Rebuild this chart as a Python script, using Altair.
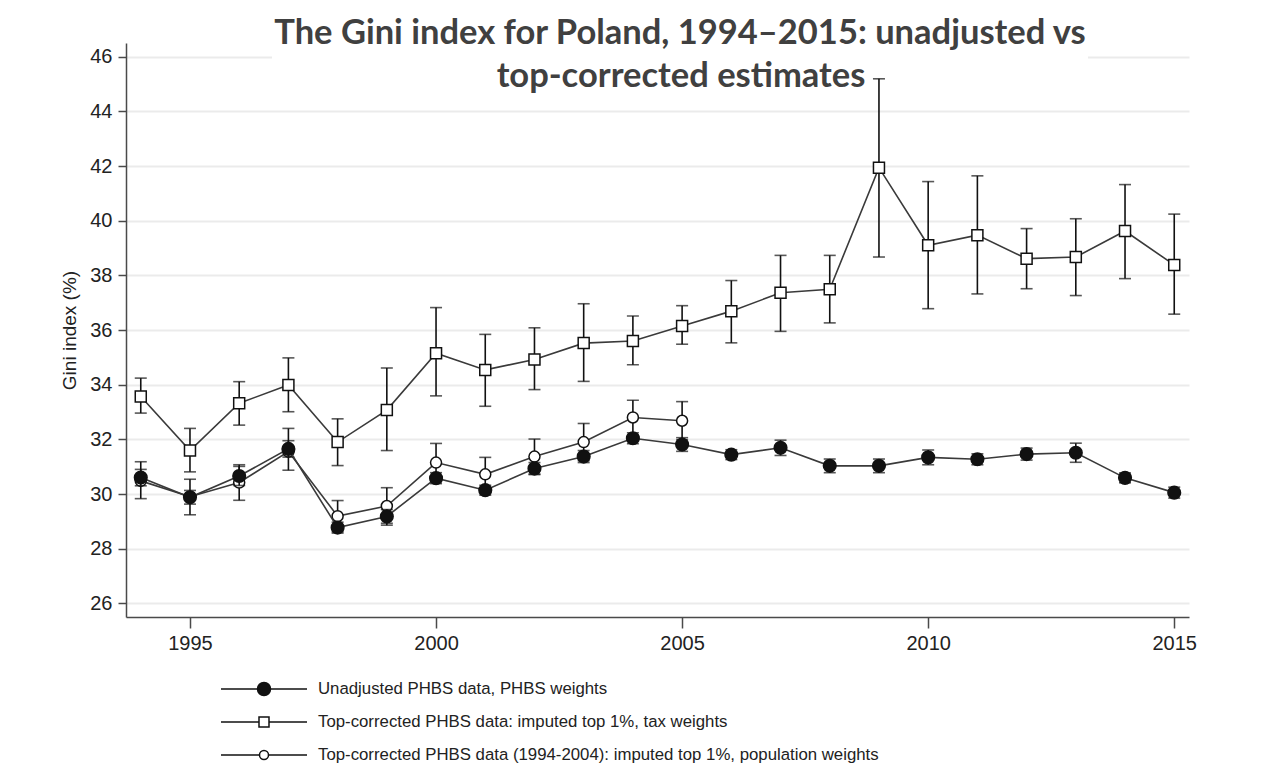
import altair as alt
import pandas as pd

years = list(range(1994, 2016))

# Top-corrected PHBS data: imputed top 1%, tax weights (squares)
tax_val = [33.57, 31.59, 33.32, 33.99, 31.90, 33.07, 35.15, 34.54, 34.92, 35.52, 35.60,
           36.15, 36.69, 37.36, 37.49, 41.94, 39.10, 39.47, 38.61, 38.67, 39.62, 38.38]
tax_lo = [32.96, 30.81, 32.52, 33.01, 31.04, 31.59, 33.59, 33.21, 33.82, 34.12, 34.73,
          35.48, 35.53, 35.95, 36.26, 38.67, 36.78, 37.32, 37.51, 37.26, 37.88, 36.58]
tax_hi = [34.24, 32.40, 34.11, 34.98, 32.75, 34.61, 36.82, 35.84, 36.08, 36.96, 36.51,
          36.89, 37.81, 38.73, 38.73, 45.19, 41.43, 41.64, 39.71, 40.07, 41.32, 40.24]

# Unadjusted PHBS data, PHBS weights (filled circles)
un_val = [30.60, 29.88, 30.66, 31.65, 28.77, 29.18, 30.58, 30.14, 30.93, 31.37, 32.04,
          31.81, 31.44, 31.69, 31.03, 31.03, 31.34, 31.27, 31.46, 31.51, 30.59, 30.05]
un_lo = [30.30, 29.63, 30.31, 31.35, 28.57, 28.93, 30.38, 29.96, 30.71, 31.15, 31.84,
         31.56, 31.26, 31.41, 30.78, 30.78, 31.07, 31.07, 31.24, 31.16, 30.41, 29.85]
un_hi = [30.90, 30.13, 31.01, 31.95, 28.97, 29.43, 30.78, 30.32, 31.15, 31.59, 32.24,
         32.06, 31.62, 31.97, 31.28, 31.28, 31.61, 31.47, 31.68, 31.86, 30.77, 30.25]

# Top-corrected PHBS data (1994-2004): imputed top 1%, population weights (open circles)
pop_years = list(range(1994, 2006))
pop_val = [30.48, 29.90, 30.42, 31.55, 29.19, 29.56, 31.15, 30.72, 31.37, 31.90, 32.80, 32.68]
pop_lo = [29.83, 29.24, 29.77, 30.87, 28.62, 28.86, 30.45, 30.10, 30.73, 31.22, 32.17, 31.98]
pop_hi = [31.18, 30.54, 31.07, 32.40, 29.76, 30.23, 31.85, 31.34, 32.01, 32.58, 33.43, 33.38]

legend_labels = [
    "Unadjusted PHBS data, PHBS weights",
    "Top-corrected PHBS data: imputed top 1%, tax weights",
    "Top-corrected PHBS data (1994-2004): imputed top 1%, population weights",
]
title_lines = ["The Gini index for Poland, 1994\u20132015: unadjusted vs",
               "top-corrected estimates"]

tax_df = pd.DataFrame({"year": years, "val": tax_val, "lo": tax_lo, "hi": tax_hi})
un_df = pd.DataFrame({"year": years, "val": un_val, "lo": un_lo, "hi": un_hi})
pop_df = pd.DataFrame({"year": pop_years, "val": pop_val, "lo": pop_lo, "hi": pop_hi})

SANS = "Liberation Sans, Arial, Helvetica, sans-serif"
W, H = 1063, 574

xs = alt.Scale(domain=[1993.7, 2015.3], nice=False, zero=False)
ys = alt.Scale(domain=[25.5, 46.5], nice=False, zero=False)
xaxis = alt.Axis(values=[1995, 2000, 2005, 2010, 2015], format="d", grid=False,
                 tickSize=11, labelPadding=5, labelFontSize=20, labelFont=SANS,
                 labelColor="#222222", domainColor="#4a4a4a", tickColor="#4a4a4a",
                 domainWidth=1.5, tickWidth=1.5)
yaxis = alt.Axis(values=list(range(26, 47, 2)), grid=True, gridColor="#ebebeb", gridWidth=2,
                 tickSize=8, labelPadding=6, labelFontSize=20, labelFont=SANS,
                 labelColor="#222222", domainColor="#4a4a4a", tickColor="#4a4a4a",
                 domainWidth=1.5, tickWidth=1.5, titleFont=SANS, titleFontSize=19,
                 titleFontWeight="normal", titleColor="#222222", titlePadding=10)


def X():
    return alt.X("year:Q", scale=xs, axis=xaxis, title=None)


def Y(field):
    return alt.Y(f"{field}:Q", scale=ys, axis=yaxis, title="Gini index (%)")


def series_layers(df, shape, filled, size):
    bars = alt.Chart(df).mark_rule(color="#111111", strokeWidth=1.6).encode(
        x=X(), y=Y("lo"), y2="hi")
    cap_lo = alt.Chart(df).mark_tick(color="#111111", orient="horizontal", size=12,
                                     thickness=1.6).encode(x=X(), y=Y("lo"))
    cap_hi = alt.Chart(df).mark_tick(color="#111111", orient="horizontal", size=12,
                                     thickness=1.6).encode(x=X(), y=Y("hi"))
    line = alt.Chart(df).mark_line(color="#3a3a3a", strokeWidth=1.6).encode(x=X(), y=Y("val"))
    pts = alt.Chart(df).mark_point(shape=shape, filled=True,
                                   fill="#111111" if filled else "white",
                                   stroke="#111111", strokeWidth=1.5, size=size,
                                   opacity=1).encode(x=X(), y=Y("val"))
    return [bars, cap_lo, cap_hi, line, pts]


one = pd.DataFrame({"k": [0]})

# white box behind the title (hides the top gridline like the reference)
title_box = alt.Chart(one).mark_rect(color="white").encode(
    x=alt.value(146), x2=alt.value(962), y=alt.value(-33), y2=alt.value(36))

title_marks = [
    alt.Chart(one).mark_text(text=title_lines[0], font="Lato", fontWeight="bold", fontSize=34.5,
                             color="#404040", align="center", baseline="alphabetic").encode(
        x=alt.value(554), y=alt.value(1)),
    alt.Chart(one).mark_text(text=title_lines[1], font="Lato", fontWeight="bold", fontSize=34.5,
                             color="#404040", align="center", baseline="alphabetic").encode(
        x=alt.value(555), y=alt.value(44)),
]

legend_marks = []
leg_specs = [("circle", True, 169), ("square", False, 100), ("circle", False, 81)]
for i, (lab, (shp, fil, sz)) in enumerate(zip(legend_labels, leg_specs)):
    yy = 646 + 33 * i
    legend_marks.append(alt.Chart(one).mark_rule(color="#111111", strokeWidth=1.6).encode(
        x=alt.value(95), x2=alt.value(181), y=alt.value(yy)))
    legend_marks.append(alt.Chart(one).mark_point(shape=shp, filled=True,
                                                  fill="#111111" if fil else "white",
                                                  stroke="#111111", strokeWidth=1.5, size=sz,
                                                  opacity=1).encode(
        x=alt.value(138), y=alt.value(yy)))
    legend_marks.append(alt.Chart(one).mark_text(text=lab, font=SANS, fontSize=16.8,
                                                 color="#222222", align="left",
                                                 baseline="middle").encode(
        x=alt.value(192), y=alt.value(yy)))

layers = ([title_box]
          + series_layers(pop_df, "circle", False, 121)
          + series_layers(un_df, "circle", True, 160)
          + series_layers(tax_df, "square", False, 121)
          + title_marks + legend_marks)

chart = alt.layer(*layers).properties(
    width=W, height=H,
    autosize=alt.AutoSizeParams(type="none"),
    padding={"left": 118, "top": 35, "right": 68, "bottom": 159},
    background="white",
).configure_view(stroke=None)

chart.save("out.html", embed_options={"renderer": "svg", "actions": False})
